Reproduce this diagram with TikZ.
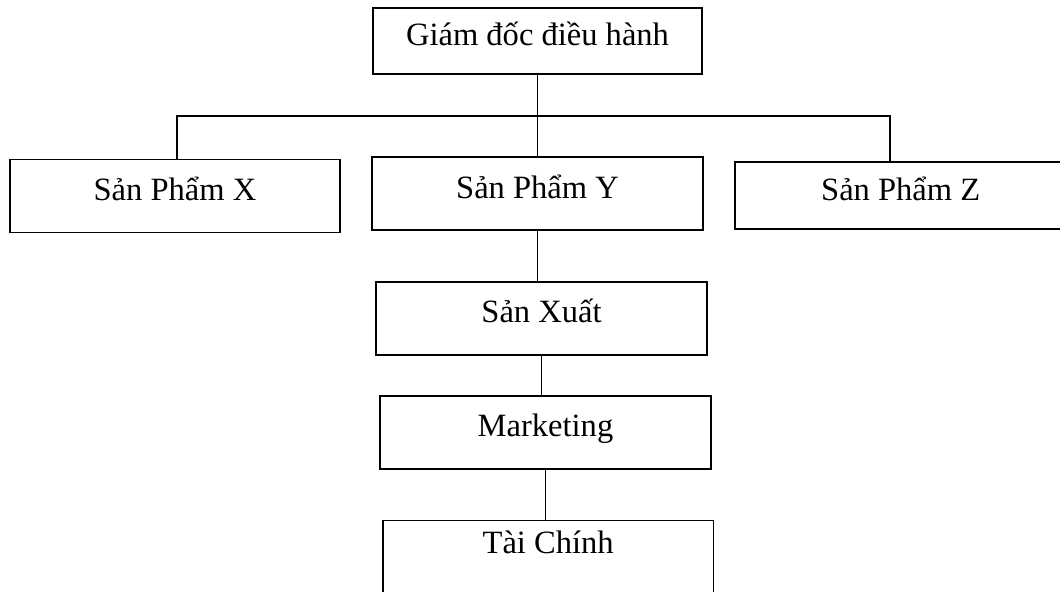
\documentclass[tikz,border=0pt]{standalone}
\usepackage{fontspec}
\setmainfont{Liberation Serif}
\usetikzlibrary{positioning}

\begin{document}
\begin{tikzpicture}[
 x=0.75pt,y=-0.75pt,
 font=\fontsize{24.4}{29}\selectfont,
 unit/.style={draw,line width=1.4pt,minimum width=248pt,minimum height=54.75pt,
 inner sep=0pt,text height=16pt,text depth=9pt},
 link/.style={draw,line width=1.1pt}]
\useasboundingbox (0,0) rectangle (1060,592);
\node[unit,minimum width=246.75pt,minimum height=49.5pt] (ceo) at (537.5,41) {Giám đốc điều hành};
\node[unit,below=60.75pt of ceo] (py) {Sản Phẩm Y};
\node[unit,left=22.5pt of py,yshift=-2pt] (px) {Sản Phẩm X};
\node[unit,minimum width=249pt,minimum height=50.25pt,right=22.5pt of py,yshift=-1.5pt] (pz) {Sản Phẩm Z};
\node[unit,below=37.5pt of py,xshift=3pt] (sx) {Sản Xuất};
\node[unit,below=29.25pt of sx,xshift=3pt] (mk) {Marketing};
\node[unit,below=37.5pt of mk,xshift=2pt,text depth=21pt] (tc) {Tài Chính};
\coordinate (busl) at (177,116);
\coordinate (busr) at (890,116);
\draw[link] (ceo.south) -- (ceo.south |- busl);
\draw[link] (busl |- px.north) -- (busl) -- (busr) -- (busr |- pz.north);
\draw[link] (ceo.south |- busl) -- (ceo.south |- py.north);
\draw[link] (py.south) -- (py.south |- sx.north);
\draw[link] (sx.south) -- (sx.south |- mk.north);
\draw[link] (mk.south) -- (mk.south |- tc.north);
\end{tikzpicture}
\end{document}
